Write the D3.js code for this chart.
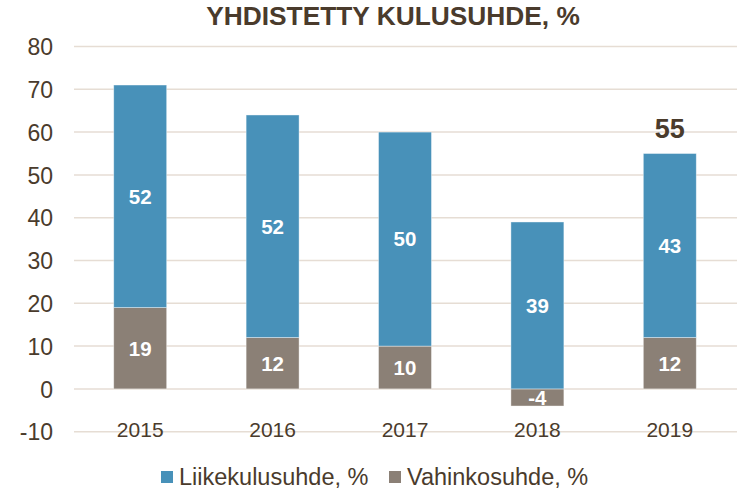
<!DOCTYPE html>
<html>
<head>
<meta charset="utf-8">
<script src="https://cdn.jsdelivr.net/npm/d3@7"></script>
<style>
  html, body { margin: 0; padding: 0; background: #fff; }
  svg { display: block; font-family: "Liberation Sans", Arial, sans-serif; }
</style>
</head>
<body>
<div id="chart"></div>
<script>
// yhdistetty kulusuhde, pinotut pylväät
const years = ["2015", "2016", "2017", "2018", "2019"];
const liikekulu = [52, 52, 50, 39, 43];
const vahinko = [19, 12, 10, -4, 12];
const yTicks = [-10, 0, 10, 20, 30, 40, 50, 60, 70, 80];
const totalYears = ["2019"];
const totalValues = [55];

const seriesNames = ["Liikekulusuhde, %", "Vahinkosuhde, %"];
const colors = { liike: "#4891b9", vahinko: "#8b8076" };
const textColor = "#4a3b2c";
const gridColor = "#e6ddd4";

const width = 737, height = 489;
const svg = d3.select("#chart").append("svg")
  .attr("width", width)
  .attr("height", height);

const rows = years.map((y, i) => ({ year: y, vahinko: vahinko[i], liike: liikekulu[i] }));

const x = d3.scaleBand()
  .domain(years)
  .range([74, 736])
  .paddingInner(0.6)
  .paddingOuter(0.3);

const y = d3.scaleLinear()
  .domain([-10, 80])
  .range([431.7, 46.5]);

// title
svg.append("text")
  .attr("x", 393)
  .attr("y", 25)
  .attr("text-anchor", "middle")
  .attr("font-size", 26.3)
  .attr("font-weight", "bold")
  .attr("fill", textColor)
  .text("YHDISTETTY KULUSUHDE, %");

// gridlines
svg.append("g")
  .selectAll("line")
  .data(yTicks)
  .enter().append("line")
  .attr("x1", 74)
  .attr("x2", width)
  .attr("y1", d => y(d))
  .attr("y2", d => y(d))
  .attr("stroke", gridColor)
  .attr("stroke-width", 1.5);

// y axis labels (plain hyphen minus like the original)
const yAxis = svg.append("g")
  .attr("transform", "translate(53,0)")
  .call(d3.axisLeft(y).tickValues(yTicks).tickFormat(d => String(d)).tickSize(0).tickPadding(0));
yAxis.select(".domain").remove();
yAxis.selectAll("text")
  .attr("font-size", 23)
  .attr("font-family", "'Liberation Sans', Arial, sans-serif")
  .attr("fill", textColor)
  .attr("dy", "0.36em");

// x axis labels
const xAxis = svg.append("g")
  .attr("transform", "translate(0,437)")
  .call(d3.axisBottom(x).tickSize(0).tickPadding(0));
xAxis.select(".domain").remove();
xAxis.selectAll("text")
  .attr("font-size", 21)
  .attr("font-family", "'Liberation Sans', Arial, sans-serif")
  .attr("fill", textColor)
  .attr("dy", 0);

// stacked bars
const stack = d3.stack()
  .keys(["vahinko", "liike"])
  .offset(d3.stackOffsetDiverging);
const layers = stack(rows);

const layerG = svg.append("g")
  .selectAll("g")
  .data(layers)
  .enter().append("g")
  .attr("fill", d => colors[d.key]);

layerG.selectAll("rect")
  .data(d => d)
  .enter().append("rect")
  .attr("x", d => x(d.data.year))
  .attr("width", x.bandwidth())
  .attr("y", d => y(d[1]))
  .attr("height", d => y(d[0]) - y(d[1]))
  .attr("stroke", "#ffffff")
  .attr("stroke-opacity", 0.5)
  .attr("stroke-width", 0.8);

// value labels inside bars
layerG.selectAll("text")
  .data(d => d.map(p => ({ p, key: d.key })))
  .enter().append("text")
  .attr("x", d => x(d.p.data.year) + x.bandwidth() / 2)
  .attr("y", d => (y(d.p[0]) + y(d.p[1])) / 2)
  .attr("dy", "0.36em")
  .attr("text-anchor", "middle")
  .attr("font-size", 20.5)
  .attr("font-weight", "bold")
  .attr("fill", "#ffffff")
  .text(d => d.p.data[d.key]);

// total label above the last bar
svg.append("g")
  .selectAll("text")
  .data(totalYears.map((yr, i) => ({ year: yr, value: totalValues[i] })))
  .enter().append("text")
  .attr("x", d => x(d.year) + x.bandwidth() / 2)
  .attr("y", d => y(d.value) - 16)
  .attr("text-anchor", "middle")
  .attr("font-size", 27)
  .attr("font-weight", "bold")
  .attr("fill", textColor)
  .text(d => d.value);

// legend
const legendItems = [
  { name: seriesNames[0], color: colors.liike, x: 161 },
  { name: seriesNames[1], color: colors.vahinko, x: 389 }
];
const lg = svg.append("g")
  .selectAll("g")
  .data(legendItems)
  .enter().append("g")
  .attr("transform", d => `translate(${d.x},471)`);
lg.append("rect")
  .attr("width", 12)
  .attr("height", 12)
  .attr("fill", d => d.color);
lg.append("text")
  .attr("x", 18)
  .attr("y", 13.5)
  .attr("font-size", 23.5)
  .attr("fill", textColor)
  .text(d => d.name);
</script>
</body>
</html>
